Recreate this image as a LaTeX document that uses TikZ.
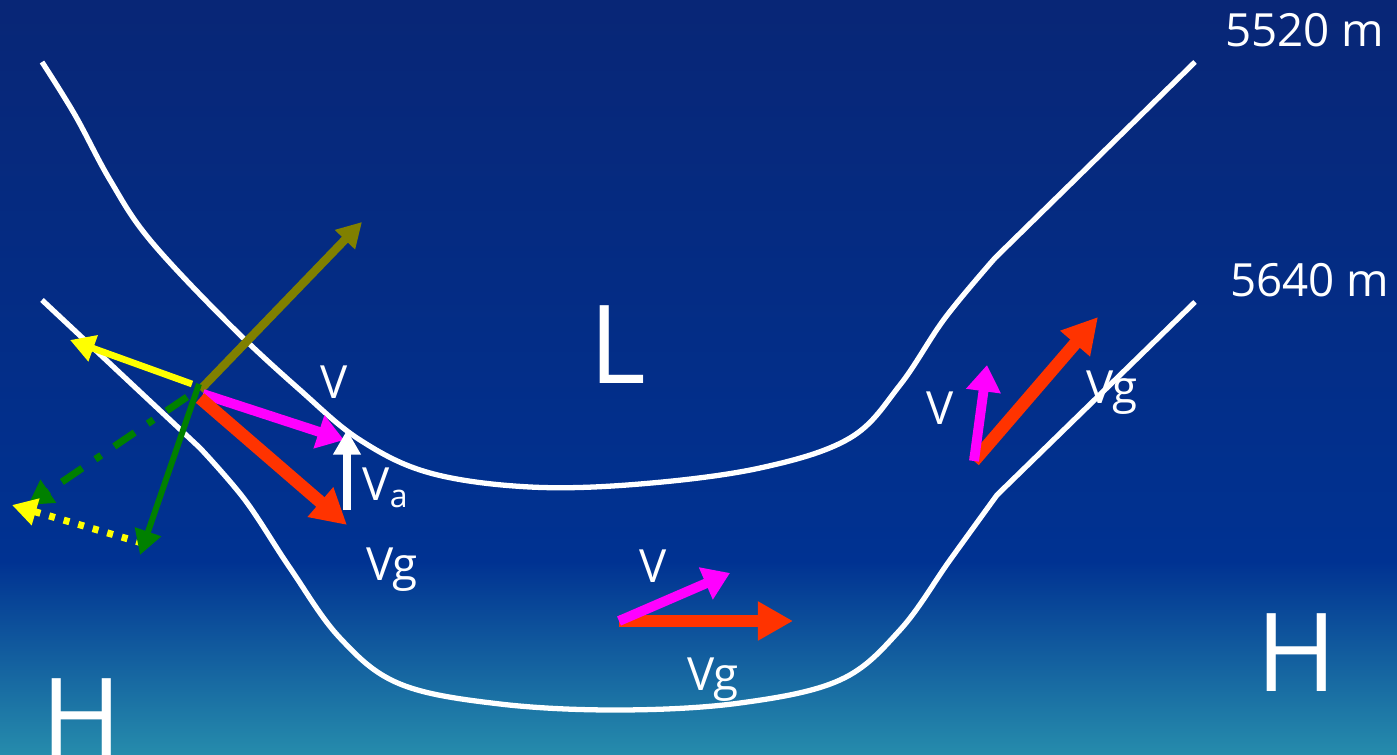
\documentclass[tikz,border=0pt]{standalone}
\usepackage{fontspec}
\setmainfont{Open Sans}
\usetikzlibrary{arrows.meta}
\definecolor{skytop}{RGB}{8,38,118}
\definecolor{skymid}{RGB}{0,50,146}
\definecolor{skylow}{RGB}{38,140,172}
\definecolor{vpink}{RGB}{255,0,255}
\definecolor{vgred}{RGB}{255,51,0}
\definecolor{volive}{RGB}{128,128,0}
\definecolor{vgreen}{RGB}{0,128,0}
\definecolor{vyellow}{RGB}{255,255,0}

\begin{document}
\begin{tikzpicture}[x=0.01cm,y=-0.01cm,
  lbl/.style={text=white,font=\fontsize{13}{15}\selectfont,inner sep=0pt},
  big/.style={text=white,font=\fontsize{31}{35}\selectfont,inner sep=0pt},
  contour/.style={white,line width=1.5pt},
  vtip/.style={-{Triangle[length=7.5pt,width=9.5pt]}},
  vgtip/.style={-{Triangle[length=10pt,width=10.5pt]}},
  smalltip/.style={-{Triangle[length=7pt,width=7.5pt]}}]

%background
\useasboundingbox (0,0) rectangle (1397,755);
\shade[top color=skytop,bottom color=skymid] (0,0) rectangle (1397,562);
\shade[top color=skymid,bottom color=skylow] (0,561) rectangle (1397,755);

%5520 m
\draw [contour] plot[smooth,tension=0.6] coordinates {(42,62) (75,115) (110,180) (150,240) (230,325) (300,390) (360,440) (430,473) (530,487) (640,484) (760,468) (850,438) (900,385) (945,318) (995,258)} -- (1195,62);
\node [lbl] (h1) at (1305,30) {5520 m};

%5640 m
\draw [contour] (42,300) -- (200,448) plot[smooth,tension=0.6] coordinates {(200,448) (245,500) (290,568) (340,638) (400,684) (500,704) (620,710) (740,703) (840,680) (900,630) (950,560) (997,495)} -- (1195,302);
\node [lbl] (h2) at (1310,280) {5640 m};

%left point
\coordinate (o) at (200,390);
\coordinate (ol) at (362,222);
\coordinate (ye) at (70,340);
\coordinate (gs) at (140,555);
\coordinate (gd) at (28,505);
\coordinate (yd) at (12,505);
\coordinate (vl) at (344,440);
\coordinate (vgl) at (347,525);
\coordinate (va0) at (347,510);
\coordinate (va1) at (347,430);

\draw [volive,line width=2.4pt,smalltip] (o) -- (ol);
\draw [vyellow,line width=1.9pt,smalltip] (192,384) -- (ye);
\draw [vgreen,line width=2pt,dash pattern=on 7pt off 4.5pt on 2pt off 4.5pt,smalltip] (187,397) -- (gd);
\draw [vyellow,line width=2pt,dash pattern=on 1.7pt off 2.6pt,smalltip] (142,543) -- (yd);
\draw [vgreen,line width=1.7pt,smalltip] (199,384) -- (gs);
\draw [vpink,line width=2.8pt,vtip] (203,394) -- (vl);
\draw [vgred,line width=3.6pt,vgtip] (o) ++(0,8) -- (vgl);
\draw [white,line width=2.2pt,smalltip] (va0) -- (va1);
\node [lbl] (v1) at (334,382) {V};
\node [lbl] (va) at (386,488) {V\textsubscript{a}};
\node [lbl] (vg1) at (392,570) {Vg};

%right point
\coordinate (r) at (974,461);
\draw [vgred,line width=3.6pt,vgtip] (r) -- (1098,317);
\draw [vpink,line width=2.8pt,vtip] (r) -- (987,365);
\node [lbl] (v2) at (940,408) {V};
\node [lbl] (vg2) at (1112,393) {Vg};

%bottom point
\coordinate (b) at (619,621);
\draw [vgred,line width=3.6pt,vgtip] (b) -- (793,621);
\draw [vpink,line width=2.8pt,vtip] (b) -- (730,573);
\node [lbl] (v3) at (653,566) {V};
\node [lbl] (vg3) at (713,680) {Vg};

%pressure
\node [big] (lo) at (618,345) {L};
\node [big] (hl) at (82,718) {H};
\node [big] (hr) at (1297,653) {H};
\end{tikzpicture}
\end{document}
